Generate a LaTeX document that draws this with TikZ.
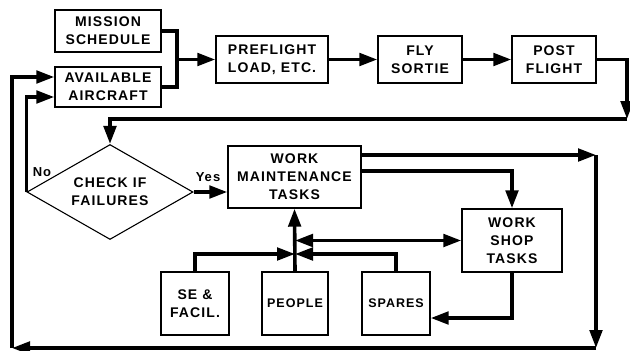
\documentclass[tikz,border=0pt]{standalone}
\usepackage{fontspec}
\setmainfont{Liberation Sans}
\newfontfamily\lblfont[LetterSpace=8]{Liberation Sans}
\usetikzlibrary{arrows.meta,shapes.geometric}
\begin{document}
\begin{tikzpicture}[x=1pt,y=-1pt,
  box/.style={draw,line width=1.4pt,rectangle,inner sep=0pt,align=center,
    font=\lblfont\bfseries\fontsize{14}{18}\selectfont},
  smallbox/.style={box,font=\lblfont\bfseries\fontsize{12.5}{16}\selectfont},
  flow/.style={line width=3.6pt,-{Triangle[length=18pt,width=12.5pt]}},
  flowline/.style={line width=3.6pt},
  both/.style={line width=3.6pt,{Triangle[length=18pt,width=12.5pt]}-{Triangle[length=18pt,width=12.5pt]}},
  lab/.style={font=\lblfont\bfseries\fontsize{13}{15}\selectfont,inner sep=0pt}]
\useasboundingbox (0,0) rectangle (630,351);
% boxes
\node[box,minimum width=106pt,minimum height=42pt] (mission) at (108,31) {MISSION\\SCHEDULE};
\node[box,minimum width=106pt,minimum height=40pt] (avail) at (108,87) {AVAILABLE\\AIRCRAFT};
\node[box,minimum width=112pt,minimum height=47pt] (preflight) at (272,59.5) {PREFLIGHT\\LOAD, ETC.};
\node[box,minimum width=84pt,minimum height=47pt] (fly) at (420,59.5) {FLY\\SORTIE};
\node[box,minimum width=84pt,minimum height=47pt] (post) at (554,59.5) {POST\\FLIGHT};
\node[draw,diamond,line width=1.1pt,inner sep=0pt,minimum width=166pt,minimum height=95pt,
  shape aspect=1.75,align=center,font=\lblfont\bfseries\fontsize{14}{18}\selectfont] (check) at (110,192) {CHECK IF\\FAILURES};
\node[box,minimum width=133pt,minimum height=62pt] (wmt) at (294.5,177) {WORK\\MAINTENANCE\\TASKS};
\node[box,minimum width=100pt,minimum height=63pt] (wst) at (512,240.5) {WORK\\SHOP\\TASKS};
\node[box,minimum width=68pt,minimum height=63pt] (se) at (195,303.5) {SE \&\\FACIL.};
\node[smallbox,minimum width=66pt,minimum height=63pt] (people) at (295,303.5) {PEOPLE};
\node[smallbox,minimum width=68pt,minimum height=63pt] (spares) at (396,303.5) {SPARES};
% labels
\node[lab] (no) at (42,172) {No};
\node[lab] (yes) at (208,177) {Yes};
% coordinates
\coordinate (m1) at (177,59.5);
\coordinate (p1) at (627,119);
\coordinate (r1) at (596,155);
\coordinate (r2) at (596,348);
\coordinate (r3) at (12,348);
\coordinate (w2) at (512,171);
\coordinate (j1) at (295,254);
\coordinate (j2) at (295,240.5);
% connectors
\draw[flowline] (mission.east) -| (m1);
\draw[flowline] (avail.east) -| (m1);
\draw[flow] (m1) -- (preflight.west);
\draw[flow] (preflight) -- (fly);
\draw[flow] (fly) -- (post);
\draw[flow] (post.east) -| (p1);
\draw[flow] (p1) -| (check.north);
\draw[flow] (check.west) |- ([yshift=-10pt]avail.west);
\draw[flow] (check.east) -- (check.east -| wmt.west);
\draw[flow] (wmt.east |- r1) -- (r1);
\draw[flow] (r1) -- (r2);
\draw[flow] (r2) -- (r3);
\draw[flow] (r3) |- ([yshift=10pt]avail.west);
\draw[flow] (wmt.east |- w2) -| (wst.north);
\draw[flow] (wst.south) |- ([yshift=-14.5pt]spares.east);
\draw[flow] (people.north) -- (wmt.south);
\draw[flow] (se.north) |- (j1);
\draw[flow] (spares.north) |- (j1);
\draw[both] (j2) -- (wst.west);
\end{tikzpicture}
\end{document}
